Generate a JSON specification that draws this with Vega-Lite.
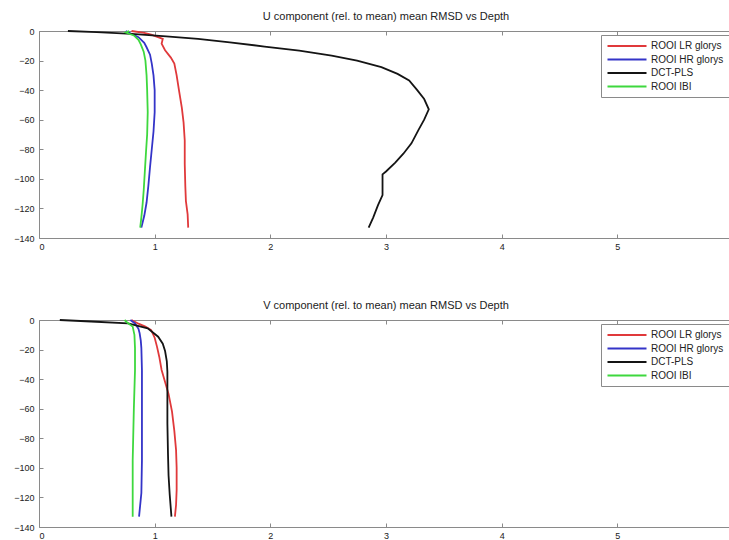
{
  "$schema": "https://vega.github.io/schema/vega-lite/v6.json",
  "padding": {"left": 13, "top": 10, "right": 0, "bottom": 0},
  "bounds": "flush",
  "spacing": 82,
  "config": {
    "font": "Liberation Sans",
    "view": {"stroke": "#8a8a8a", "strokeWidth": 1},
    "axis": {"grid": false, "domain": false, "tickColor": "#8a8a8a", "tickSize": -4, "labelFontSize": 9, "labelColor": "#222", "title": null, "labelOverlap": false},
    "axisX": {"labelPadding": 8},
    "axisY": {"labelPadding": 9},
    "title": {"fontSize": 11, "fontWeight": "normal", "color": "#222", "frame": "group", "offset": 5},
    "line": {"strokeWidth": 1.8},
    "legend": {"orient": "none", "legendX": 562, "legendY": 4, "title": null, "symbolType": "M-3.9,0H3.9", "symbolSize": 100, "symbolStrokeWidth": 2, "symbolOffset": 15, "labelFontSize": 10, "labelColor": "#222", "labelOffset": 18, "strokeColor": "#8a8a8a", "fillColor": "white", "padding": 5, "rowPadding": 2.5}
  },
  "datasets": {
    "u": [
      {"s": "ROOI LR glorys", "v": 0.80, "d": 0},
      {"s": "ROOI LR glorys", "v": 0.91, "d": -1.2},
      {"s": "ROOI LR glorys", "v": 0.97, "d": -2.5},
      {"s": "ROOI LR glorys", "v": 1.07, "d": -5.3},
      {"s": "ROOI LR glorys", "v": 1.06, "d": -8.6},
      {"s": "ROOI LR glorys", "v": 1.09, "d": -13},
      {"s": "ROOI LR glorys", "v": 1.14, "d": -18},
      {"s": "ROOI LR glorys", "v": 1.17, "d": -22},
      {"s": "ROOI LR glorys", "v": 1.19, "d": -30},
      {"s": "ROOI LR glorys", "v": 1.21, "d": -40},
      {"s": "ROOI LR glorys", "v": 1.235, "d": -52},
      {"s": "ROOI LR glorys", "v": 1.25, "d": -62},
      {"s": "ROOI LR glorys", "v": 1.26, "d": -74},
      {"s": "ROOI LR glorys", "v": 1.26, "d": -90},
      {"s": "ROOI LR glorys", "v": 1.265, "d": -105},
      {"s": "ROOI LR glorys", "v": 1.27, "d": -115},
      {"s": "ROOI LR glorys", "v": 1.285, "d": -124},
      {"s": "ROOI LR glorys", "v": 1.29, "d": -133},
      {"s": "ROOI HR glorys", "v": 0.75, "d": 0},
      {"s": "ROOI HR glorys", "v": 0.79, "d": -1.5},
      {"s": "ROOI HR glorys", "v": 0.86, "d": -4.2},
      {"s": "ROOI HR glorys", "v": 0.91, "d": -8},
      {"s": "ROOI HR glorys", "v": 0.93, "d": -11},
      {"s": "ROOI HR glorys", "v": 0.96, "d": -16},
      {"s": "ROOI HR glorys", "v": 0.975, "d": -22},
      {"s": "ROOI HR glorys", "v": 0.99, "d": -30},
      {"s": "ROOI HR glorys", "v": 1.0, "d": -40},
      {"s": "ROOI HR glorys", "v": 1.0, "d": -55},
      {"s": "ROOI HR glorys", "v": 0.99, "d": -68},
      {"s": "ROOI HR glorys", "v": 0.975, "d": -80},
      {"s": "ROOI HR glorys", "v": 0.96, "d": -92},
      {"s": "ROOI HR glorys", "v": 0.945, "d": -105},
      {"s": "ROOI HR glorys", "v": 0.93, "d": -116},
      {"s": "ROOI HR glorys", "v": 0.91, "d": -125},
      {"s": "ROOI HR glorys", "v": 0.885, "d": -133},
      {"s": "DCT-PLS", "v": 0.25, "d": 0},
      {"s": "DCT-PLS", "v": 0.5, "d": -0.8},
      {"s": "DCT-PLS", "v": 0.8, "d": -2},
      {"s": "DCT-PLS", "v": 1.1, "d": -3.6},
      {"s": "DCT-PLS", "v": 1.375, "d": -5.3},
      {"s": "DCT-PLS", "v": 1.65, "d": -7.7},
      {"s": "DCT-PLS", "v": 1.95, "d": -10.5},
      {"s": "DCT-PLS", "v": 2.25, "d": -13.3},
      {"s": "DCT-PLS", "v": 2.53, "d": -16.6},
      {"s": "DCT-PLS", "v": 2.75, "d": -20},
      {"s": "DCT-PLS", "v": 2.96, "d": -24.5},
      {"s": "DCT-PLS", "v": 3.1, "d": -29},
      {"s": "DCT-PLS", "v": 3.2, "d": -33.5},
      {"s": "DCT-PLS", "v": 3.27, "d": -40},
      {"s": "DCT-PLS", "v": 3.33, "d": -46},
      {"s": "DCT-PLS", "v": 3.37, "d": -53},
      {"s": "DCT-PLS", "v": 3.33, "d": -60},
      {"s": "DCT-PLS", "v": 3.28, "d": -67},
      {"s": "DCT-PLS", "v": 3.22, "d": -76},
      {"s": "DCT-PLS", "v": 3.15, "d": -83},
      {"s": "DCT-PLS", "v": 3.08, "d": -89},
      {"s": "DCT-PLS", "v": 3.0, "d": -95},
      {"s": "DCT-PLS", "v": 2.97, "d": -97},
      {"s": "DCT-PLS", "v": 2.97, "d": -105},
      {"s": "DCT-PLS", "v": 2.97, "d": -111},
      {"s": "DCT-PLS", "v": 2.93, "d": -118},
      {"s": "DCT-PLS", "v": 2.89, "d": -126},
      {"s": "DCT-PLS", "v": 2.85, "d": -133},
      {"s": "ROOI IBI", "v": 0.78, "d": 0},
      {"s": "ROOI IBI", "v": 0.75, "d": -1},
      {"s": "ROOI IBI", "v": 0.82, "d": -3},
      {"s": "ROOI IBI", "v": 0.86, "d": -6},
      {"s": "ROOI IBI", "v": 0.88, "d": -9},
      {"s": "ROOI IBI", "v": 0.905, "d": -14},
      {"s": "ROOI IBI", "v": 0.92, "d": -20},
      {"s": "ROOI IBI", "v": 0.93, "d": -30},
      {"s": "ROOI IBI", "v": 0.935, "d": -40},
      {"s": "ROOI IBI", "v": 0.94, "d": -55},
      {"s": "ROOI IBI", "v": 0.935, "d": -70},
      {"s": "ROOI IBI", "v": 0.925, "d": -82},
      {"s": "ROOI IBI", "v": 0.915, "d": -95},
      {"s": "ROOI IBI", "v": 0.905, "d": -108},
      {"s": "ROOI IBI", "v": 0.895, "d": -118},
      {"s": "ROOI IBI", "v": 0.885, "d": -126},
      {"s": "ROOI IBI", "v": 0.875, "d": -133}
    ],
    "v": [
      {"s": "ROOI LR glorys", "v": 0.80, "d": 0},
      {"s": "ROOI LR glorys", "v": 0.86, "d": -2.5},
      {"s": "ROOI LR glorys", "v": 0.92, "d": -4.5},
      {"s": "ROOI LR glorys", "v": 0.97, "d": -6.8},
      {"s": "ROOI LR glorys", "v": 1.0, "d": -12},
      {"s": "ROOI LR glorys", "v": 1.02, "d": -18},
      {"s": "ROOI LR glorys", "v": 1.04, "d": -25},
      {"s": "ROOI LR glorys", "v": 1.06, "d": -33.8},
      {"s": "ROOI LR glorys", "v": 1.09, "d": -42},
      {"s": "ROOI LR glorys", "v": 1.12, "d": -50},
      {"s": "ROOI LR glorys", "v": 1.15, "d": -62},
      {"s": "ROOI LR glorys", "v": 1.17, "d": -75},
      {"s": "ROOI LR glorys", "v": 1.185, "d": -88},
      {"s": "ROOI LR glorys", "v": 1.19, "d": -100},
      {"s": "ROOI LR glorys", "v": 1.19, "d": -115},
      {"s": "ROOI LR glorys", "v": 1.185, "d": -125},
      {"s": "ROOI LR glorys", "v": 1.175, "d": -133},
      {"s": "ROOI HR glorys", "v": 0.79, "d": 0},
      {"s": "ROOI HR glorys", "v": 0.83, "d": -2.3},
      {"s": "ROOI HR glorys", "v": 0.86, "d": -6},
      {"s": "ROOI HR glorys", "v": 0.87, "d": -9},
      {"s": "ROOI HR glorys", "v": 0.88, "d": -14},
      {"s": "ROOI HR glorys", "v": 0.885, "d": -19},
      {"s": "ROOI HR glorys", "v": 0.89, "d": -34},
      {"s": "ROOI HR glorys", "v": 0.89, "d": -60},
      {"s": "ROOI HR glorys", "v": 0.89, "d": -95},
      {"s": "ROOI HR glorys", "v": 0.885, "d": -117},
      {"s": "ROOI HR glorys", "v": 0.865, "d": -133},
      {"s": "DCT-PLS", "v": 0.18, "d": 0},
      {"s": "DCT-PLS", "v": 0.45, "d": -1},
      {"s": "DCT-PLS", "v": 0.77, "d": -2.3},
      {"s": "DCT-PLS", "v": 0.94, "d": -5.6},
      {"s": "DCT-PLS", "v": 1.03, "d": -11.3},
      {"s": "DCT-PLS", "v": 1.07, "d": -16},
      {"s": "DCT-PLS", "v": 1.09, "d": -21},
      {"s": "DCT-PLS", "v": 1.105, "d": -28},
      {"s": "DCT-PLS", "v": 1.11, "d": -35},
      {"s": "DCT-PLS", "v": 1.11, "d": -50},
      {"s": "DCT-PLS", "v": 1.11, "d": -70},
      {"s": "DCT-PLS", "v": 1.115, "d": -90},
      {"s": "DCT-PLS", "v": 1.12, "d": -105},
      {"s": "DCT-PLS", "v": 1.13, "d": -118},
      {"s": "DCT-PLS", "v": 1.145, "d": -133},
      {"s": "ROOI IBI", "v": 0.74, "d": 0},
      {"s": "ROOI IBI", "v": 0.76, "d": -1.5},
      {"s": "ROOI IBI", "v": 0.81, "d": -4.5},
      {"s": "ROOI IBI", "v": 0.825, "d": -10},
      {"s": "ROOI IBI", "v": 0.83, "d": -19},
      {"s": "ROOI IBI", "v": 0.83, "d": -34},
      {"s": "ROOI IBI", "v": 0.82, "d": -60},
      {"s": "ROOI IBI", "v": 0.81, "d": -95},
      {"s": "ROOI IBI", "v": 0.81, "d": -133}
    ]
  },
  "vconcat": [
    {
      "title": "U component (rel. to mean) mean RMSD vs Depth",
      "width": 694,
      "height": 207,
      "data": {"name": "u"},
      "layer": [
        {
          "mark": {"type": "line"},
          "encoding": {
            "x": {"field": "v", "type": "quantitative", "scale": {"domain": [0, 6], "nice": false}, "axis": {"orient": "bottom", "values": [0, 1, 2, 3, 4, 5]}},
            "y": {"field": "d", "type": "quantitative", "scale": {"domain": [-140, 0], "nice": false}, "axis": {"orient": "left", "values": [-140, -120, -100, -80, -60, -40, -20, 0], "labelOverlap": false, "labelFlush": false}},
            "order": {"field": "d", "sort": "descending"},
            "color": {"field": "s", "type": "nominal", "scale": {"domain": ["ROOI LR glorys", "ROOI HR glorys", "DCT-PLS", "ROOI IBI"], "range": ["#e0393b", "#3434c8", "#141414", "#3ed83e"]}}
          }
        },
        {
          "mark": {"type": "rule", "opacity": 0},
          "encoding": {
            "x": {"field": "v", "type": "quantitative", "axis": {"orient": "top", "values": [0, 1, 2, 3, 4, 5], "labels": false}}
          }
        }
      ],
      "resolve": {"axis": {"x": "independent"}}
    },
    {
      "title": "V component (rel. to mean) mean RMSD vs Depth",
      "width": 694,
      "height": 207,
      "data": {"name": "v"},
      "layer": [
        {
          "mark": {"type": "line"},
          "encoding": {
            "x": {"field": "v", "type": "quantitative", "scale": {"domain": [0, 6], "nice": false}, "axis": {"orient": "bottom", "values": [0, 1, 2, 3, 4, 5]}},
            "y": {"field": "d", "type": "quantitative", "scale": {"domain": [-140, 0], "nice": false}, "axis": {"orient": "left", "values": [-140, -120, -100, -80, -60, -40, -20, 0], "labelOverlap": false, "labelFlush": false}},
            "order": {"field": "d", "sort": "descending"},
            "color": {"field": "s", "type": "nominal", "scale": {"domain": ["ROOI LR glorys", "ROOI HR glorys", "DCT-PLS", "ROOI IBI"], "range": ["#e0393b", "#3434c8", "#141414", "#3ed83e"]}}
          }
        },
        {
          "mark": {"type": "rule", "opacity": 0},
          "encoding": {
            "x": {"field": "v", "type": "quantitative", "axis": {"orient": "top", "values": [0, 1, 2, 3, 4, 5], "labels": false}}
          }
        }
      ],
      "resolve": {"axis": {"x": "independent"}}
    }
  ],
  "resolve": {"scale": {"color": "independent"}}
}
